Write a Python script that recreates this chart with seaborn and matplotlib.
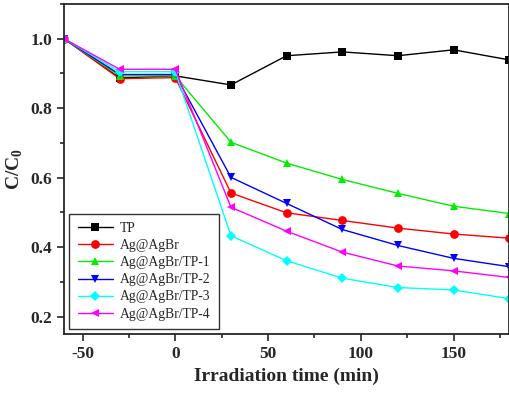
import numpy as np
import pandas as pd
import seaborn as sns
import matplotlib.pyplot as plt
from matplotlib.ticker import MultipleLocator

time = [-60, -30, 0, 30, 60, 90, 120, 150, 180]
series_names = ["TP", "Ag@AgBr", "Ag@AgBr/TP-1", "Ag@AgBr/TP-2", "Ag@AgBr/TP-3", "Ag@AgBr/TP-4"]
tp = [1.0, 0.887, 0.893, 0.867, 0.951, 0.962, 0.951, 0.968, 0.939]
ag_agbr = [1.0, 0.885, 0.888, 0.556, 0.499, 0.477, 0.455, 0.438, 0.426]
tp1 = [1.0, 0.893, 0.893, 0.702, 0.642, 0.595, 0.555, 0.518, 0.497]
tp2 = [1.0, 0.897, 0.897, 0.601, 0.526, 0.451, 0.405, 0.368, 0.344]
tp3 = [1.0, 0.905, 0.905, 0.433, 0.361, 0.311, 0.284, 0.277, 0.252]
tp4 = [1.0, 0.912, 0.912, 0.515, 0.446, 0.386, 0.346, 0.332, 0.313]

colors = ["black", "#ff0000", "#00ee00", "#0000ff", "#00ffff", "#ff00ff"]
markers = ["s", "o", "^", "v", "D", "<"]


def build_frame():
    values = [tp, ag_agbr, tp1, tp2, tp3, tp4]
    rows = []
    for name, vals in zip(series_names, values):
        for t, v in zip(time, vals):
            rows.append({"time": t, "value": v, "sample": name})
    return pd.DataFrame(rows)


df = build_frame()

sns.set_style("ticks")
plt.rcParams["font.family"] = ["Liberation Serif", "DejaVu Serif"]
plt.rcParams["axes.unicode_minus"] = False

fig = plt.figure(figsize=(5.1, 3.94), dpi=100)
ax = fig.add_axes([0.1255, 0.152, 0.873, 0.838])

for name, color, marker in zip(series_names, colors, markers):
    sub = df[df["sample"] == name]
    ms = 5.5 if marker == "D" else 6.3
    sns.lineplot(data=sub, x="time", y="value", ax=ax, color=color, marker=marker,
                 markersize=ms, markeredgewidth=0, linewidth=1.0, label=name)

ax.set_xlim(-60, 180)
ax.set_ylim(0.15, 1.1)
ax.xaxis.set_major_locator(MultipleLocator(50))
ax.xaxis.set_minor_locator(MultipleLocator(25))
ax.yaxis.set_major_locator(MultipleLocator(0.2))
ax.yaxis.set_minor_locator(MultipleLocator(0.1))
ax.tick_params(which="major", direction="out", length=5, width=1.2, labelsize=12.5)
ax.tick_params(which="minor", direction="out", length=3, width=1.2)
for lbl in ax.get_xticklabels() + ax.get_yticklabels():
    lbl.set_fontweight("bold")
for sp in ax.spines.values():
    sp.set_linewidth(1.3)
    sp.set_visible(True)

ax.set_xlabel("Irradiation time (min)", fontsize=14, fontweight="bold")
ax.set_ylabel("C/C$_\\mathregular{0}$", fontsize=14, fontweight="bold")

leg = ax.legend(loc="lower left", fontsize=9.8, frameon=True, fancybox=False,
                edgecolor="black", borderaxespad=0.4, handlelength=2.6,
                handletextpad=0.5, labelspacing=0.3, borderpad=0.6)
leg.get_frame().set_linewidth(1.0)

fig.savefig("out.png", dpi=100)
